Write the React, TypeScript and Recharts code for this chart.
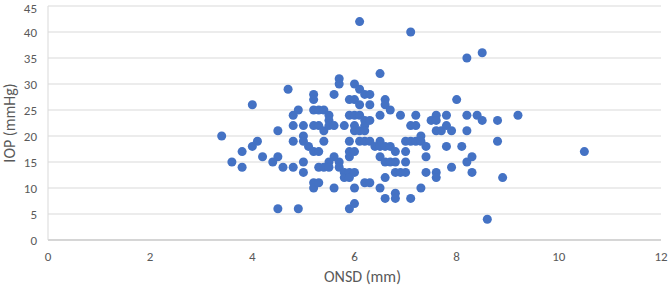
import { ScatterChart, Scatter, XAxis, YAxis, ZAxis, CartesianGrid, Label } from 'recharts'

// ONSD (mm) and IOP (mmHg), one pair per patient
const onsd = [
  3.4, 3.6, 3.8, 3.8, 4.0, 4.0, 4.1, 4.2, 4.4, 4.5, 4.5, 4.5, 4.6, 4.7,
  4.8, 4.8, 4.8, 4.8, 4.9, 4.9, 5.0, 5.0, 5.0, 5.0, 5.0, 5.1,
  5.2, 5.2, 5.2, 5.2, 5.2, 5.2, 5.2, 5.3, 5.3, 5.3, 5.3, 5.3,
  5.4, 5.4, 5.4, 5.4, 5.5, 5.5, 5.5, 5.5, 5.5, 5.6, 5.6, 5.6, 5.6,
  5.7, 5.7, 5.7, 5.7, 5.8, 5.8, 5.8, 5.9, 5.9, 5.9, 5.9, 5.9, 5.9, 5.9, 5.9,
  6.0, 6.0, 6.0, 6.0, 6.0, 6.0, 6.0, 6.0, 6.0, 6.1, 6.1, 6.1, 6.1, 6.1, 6.1,
  6.2, 6.2, 6.2, 6.2, 6.2, 6.2, 6.3, 6.3, 6.3, 6.3, 6.3, 6.4,
  6.5, 6.5, 6.5, 6.5, 6.5, 6.5, 6.6, 6.6, 6.6, 6.6, 6.6, 6.6, 6.7, 6.7, 6.7,
  6.8, 6.8, 6.8, 6.8, 6.8, 6.9, 6.9, 7.0, 7.0, 7.0, 7.0, 7.1, 7.1, 7.1, 7.1,
  7.2, 7.2, 7.2, 7.3, 7.3, 7.3, 7.4, 7.4, 7.4, 7.5, 7.6, 7.6, 7.6, 7.6, 7.6,
  7.7, 7.8, 7.8, 7.8, 7.9, 7.9, 8.0, 8.1, 8.2, 8.2, 8.2, 8.2, 8.3, 8.3, 8.4,
  8.5, 8.5, 8.6, 8.8, 8.8, 8.9, 9.2, 10.5,
]
const iop = [
  20, 15, 17, 14, 26, 18, 19, 16, 15, 21, 16, 6, 14, 29,
  24, 22, 19, 14, 25, 6, 22, 20, 19, 15, 13, 18,
  28, 27, 25, 22, 17, 11, 10, 25, 22, 17, 14, 11,
  25, 21, 19, 14, 24, 23, 22, 15, 14, 28, 22, 16, 10,
  31, 30, 15, 14, 22, 13, 12, 27, 24, 19, 17, 16, 13, 12, 6,
  30, 27, 24, 22, 21, 17, 13, 10, 7, 42, 29, 26, 24, 21, 19,
  28, 23, 22, 21, 19, 11, 28, 26, 23, 19, 11, 18,
  32, 24, 19, 18, 16, 10, 27, 26, 18, 15, 12, 8, 25, 18, 15,
  17, 15, 13, 9, 8, 24, 13, 19, 17, 15, 13, 40, 22, 19, 8,
  24, 22, 19, 20, 19, 10, 18, 16, 13, 23, 24, 23, 21, 13, 12,
  21, 24, 22, 18, 21, 14, 27, 18, 35, 24, 21, 15, 16, 13, 24,
  36, 23, 4, 23, 19, 12, 24, 17,
]

const xTicks = [0, 2, 4, 6, 8, 10, 12]
const yTicks = [0, 5, 10, 15, 20, 25, 30, 35, 40, 45]

const points = onsd.map((x, i) => ({ onsd: x, iop: iop[i] }))

const font = 'Calibri, Carlito, "Liberation Sans", Arial, sans-serif'
const tickStyle = { fontSize: 13, fill: '#595959', fontFamily: font }
const titleStyle = { fontSize: 16, fill: '#595959', fontFamily: font }

export default function App() {
  return (
    <div style={{ position: 'absolute', left: 0, top: 0, background: '#fff' }}>
      <ScatterChart width={669} height={290} margin={{ top: 6, right: 8, left: 0, bottom: 0 }}>
        <CartesianGrid stroke="#d9d9d9" vertical={false} />
        <XAxis
          type="number"
          dataKey="onsd"
          domain={[0, 12]}
          ticks={xTicks}
          height={50}
          tick={tickStyle}
          tickLine={false}
          tickSize={0}
          tickMargin={12}
          stroke="#bfbfbf"
        >
          <Label value="ONSD (mm)" position="insideBottom" offset={8} dx={8} style={titleStyle} />
        </XAxis>
        <YAxis
          type="number"
          dataKey="iop"
          domain={[0, 45]}
          ticks={yTicks}
          width={48}
          tick={tickStyle}
          tickLine={false}
          tickSize={0}
          tickMargin={11}
          stroke="#d9d9d9"
        >
          <Label
            value="IOP (mmHg)"
            angle={-90}
            position="insideLeft"
            offset={9}
            style={{ ...titleStyle, textAnchor: 'middle' }}
          />
        </YAxis>
        <ZAxis range={[52, 52]} />
        <Scatter data={points} fill="#4472c4" isAnimationActive={false} />
      </ScatterChart>
    </div>
  )
}
